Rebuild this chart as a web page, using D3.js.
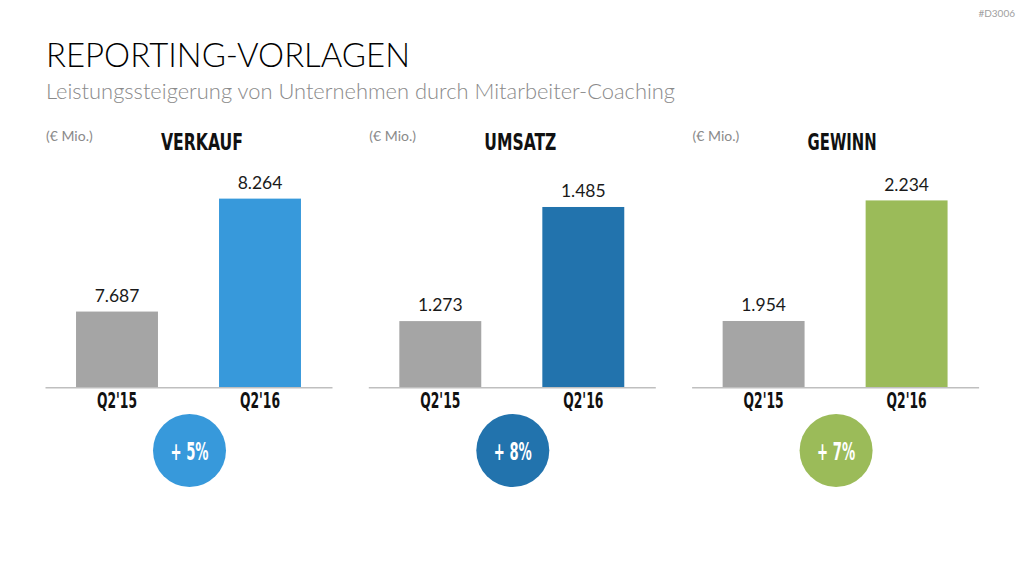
<!DOCTYPE html>
<html>
<head>
<meta charset="utf-8">
<script src="https://cdn.jsdelivr.net/npm/d3@7"></script>
<style>
  html, body { margin: 0; padding: 0; background: #fff; }
  svg { display: block; }
</style>
</head>
<body>
<svg id="chart" width="1024" height="576"></svg>
<script>
// ---- data ----
const panelTitles = ["VERKAUF", "UMSATZ", "GEWINN"];
const periods = ["Q2'15", "Q2'16"];
const values2015 = [7687, 1273, 1954];
const values2016 = [8264, 1485, 2234];
const axisMin = [7300, 1150, 1800];
const axisMax = [8400, 1550, 2300];
const changeLabels = ["+ 5%", "+ 8%", "+ 7%"];
const unitLabel = "(€ Mio.)";
const mainTitle = "REPORTING-VORLAGEN";
const subTitle = "Leistungssteigerung von Unternehmen durch Mitarbeiter-Coaching";
const docId = "#D3006";

// ---- styles ----
const grayColor = "#a5a5a5";
const accentColors = ["#3799db", "#2273ad", "#9bbb59"];
const bodyFont = "Lato, 'Open Sans', 'Liberation Sans', sans-serif";
const condFont = "'Liberation Sans Narrow', 'DejaVu Sans Condensed', 'Liberation Sans', sans-serif";
const titleWidths = [82, 72, 69];

const de = d3.formatLocale({decimal: ",", thousands: ".", grouping: [3], currency: ["", " €"]});
const fmt = de.format(",d");

const svg = d3.select("#chart");

// header
svg.append("text").attr("x", 46).attr("y", 66.5)
  .attr("font-family", bodyFont).attr("font-weight", 300).attr("font-size", 34)
  .attr("fill", "#000").attr("textLength", 364).attr("lengthAdjust", "spacingAndGlyphs")
  .text(mainTitle);
svg.append("text").attr("x", 46).attr("y", 98.5)
  .attr("font-family", bodyFont).attr("font-weight", 300).attr("font-size", 22)
  .attr("fill", "#8a8a8a").attr("textLength", 629).attr("lengthAdjust", "spacingAndGlyphs")
  .text(subTitle);
svg.append("text").attr("x", 1015).attr("y", 17)
  .attr("text-anchor", "end")
  .attr("font-family", bodyFont).attr("font-size", 10)
  .attr("fill", "#a0a0a0")
  .text(docId);

// panels
const panelLeft = 45, panelStep = 323.3, panelWidth = 287;
const baseY = 387.3, topY = 172;

panelTitles.forEach((title, i) => {
  const x0 = panelLeft + i * panelStep;
  const g = svg.append("g").attr("transform", `translate(${x0},0)`);
  const data = periods.map((p, j) => ({
    period: p,
    value: j === 0 ? values2015[i] : values2016[i],
    color: j === 0 ? grayColor : accentColors[i]
  }));

  const x = d3.scaleBand().domain(periods).range([0, panelWidth])
    .paddingInner(0.427).paddingOuter(0.217);
  const y = d3.scaleLinear().domain([axisMin[i], axisMax[i]]).range([baseY, topY]);

  // unit label
  g.append("text").attr("x", 1).attr("y", 141)
    .attr("font-family", bodyFont).attr("font-size", 14).attr("fill", "#8a8a8a")
    .text(unitLabel);
  // panel title
  g.append("text").attr("x", 116).attr("y", 149.5)
    .attr("font-family", condFont).attr("font-weight", "bold").attr("font-size", 22.5)
    .attr("fill", "#111").attr("textLength", titleWidths[i]).attr("lengthAdjust", "spacingAndGlyphs")
    .text(title);

  // bars
  g.selectAll("rect.bar").data(data).enter().append("rect")
    .attr("class", "bar")
    .attr("x", d => x(d.period))
    .attr("width", x.bandwidth())
    .attr("y", d => y(d.value))
    .attr("height", d => baseY - y(d.value))
    .attr("fill", d => d.color);

  // value labels
  g.selectAll("text.val").data(data).enter().append("text")
    .attr("class", "val")
    .attr("x", d => x(d.period) + x.bandwidth() / 2)
    .attr("y", d => y(d.value) - 9.8)
    .attr("text-anchor", "middle")
    .attr("font-family", bodyFont).attr("font-size", 17.5).attr("fill", "#1a1a1a")
    .text(d => fmt(d.value));

  // x axis
  const axis = g.append("g").attr("transform", `translate(0,${baseY})`)
    .call(d3.axisBottom(x).tickSize(0).tickPadding(0));
  axis.select(".domain").attr("stroke", "#bfbfbf").attr("stroke-width", 1.6);
  axis.selectAll(".tick text")
    .attr("y", 21)
    .attr("dy", 0)
    .attr("font-family", condFont).attr("font-weight", "bold").attr("font-size", 20.5)
    .attr("fill", "#111")
    .attr("textLength", 40).attr("lengthAdjust", "spacingAndGlyphs");

  // change bubble
  const cx = panelWidth / 2 + 1;
  g.append("circle").attr("cx", cx).attr("cy", 450.5).attr("r", 36.5)
    .attr("fill", accentColors[i]);
  g.append("text").attr("x", cx).attr("y", 459.5)
    .attr("text-anchor", "middle")
    .attr("font-family", condFont).attr("font-weight", "bold").attr("font-size", 24)
    .attr("fill", "#fff").attr("textLength", 38).attr("lengthAdjust", "spacingAndGlyphs")
    .text(changeLabels[i]);
});
</script>
</body>
</html>
